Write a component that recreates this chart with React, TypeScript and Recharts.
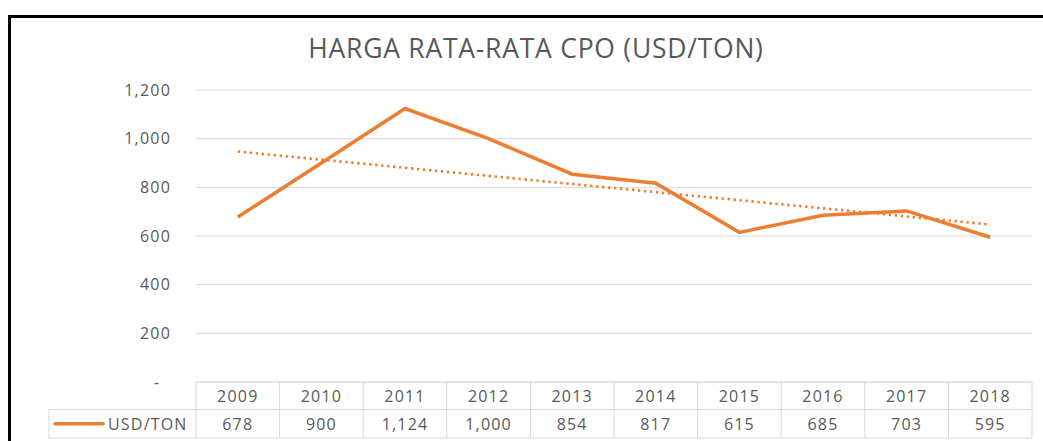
import React from 'react';
import { LineChart, Line, XAxis, YAxis, CartesianGrid } from 'recharts';

const categories = ['2009', '2010', '2011', '2012', '2013', '2014', '2015', '2016', '2017', '2018'];
const usdPerTon = [678, 900, 1124, 1000, 854, 817, 615, 685, 703, 595];
const valueLabels = ['678', '900', '1,124', '1,000', '854', '817', '615', '685', '703', '595'];
// endpoints of the dotted linear trendline
const trendStart = 947;
const trendEnd = 647;
const yTicks = [0, 200, 400, 600, 800, 1000, 1200];
const seriesName = 'USD/TON';
const title = 'HARGA RATA-RATA CPO (USD/TON)';

const W = 1043;
const H = 441;
const PLOT_LEFT = 196;
const PLOT_RIGHT = 1032;
const BAND = (PLOT_RIGHT - PLOT_LEFT) / categories.length;
const ORANGE = '#ED7D31';
const TEXT = '#595959';
const GRID = '#d9d9d9';
const FONT = '"Open Sans", sans-serif';
const LS = 1.2;

const data = categories.map((c, i) => ({
  year: c,
  value: usdPerTon[i],
  trend: i === 0 ? trendStart : i === categories.length - 1 ? trendEnd : null,
}));

function TableTick(props: any) {
  const { x, y, index } = props;
  const half = BAND / 2;
  const l = x - half;
  const r = x + half;
  const top = y;
  const mid = y + 27.5;
  const bot = y + 56;
  const isFirst = index === 0;
  const isLast = index === categories.length - 1;
  return (
    <g>
      <line x1={l} x2={r} y1={top} y2={top} stroke={GRID} strokeWidth={1} />
      <line x1={l} x2={r} y1={mid} y2={mid} stroke={GRID} strokeWidth={1} />
      <line x1={l} x2={r} y1={bot} y2={bot} stroke={GRID} strokeWidth={1} />
      <line x1={l} x2={l} y1={top} y2={bot} stroke={GRID} strokeWidth={1} />
      {isLast && <line x1={r} x2={r} y1={top} y2={bot} stroke={GRID} strokeWidth={1} />}
      <text x={x} y={(top + mid) / 2} textAnchor="middle" dominantBaseline="central" fill={TEXT} fontSize={16} fontFamily={FONT} letterSpacing={LS}>
        {categories[index]}
      </text>
      <text x={x} y={(mid + bot) / 2} textAnchor="middle" dominantBaseline="central" fill={TEXT} fontSize={16} fontFamily={FONT} letterSpacing={LS}>
        {valueLabels[index]}
      </text>
      {isFirst && (
        <g>
          <line x1={49} x2={l} y1={mid} y2={mid} stroke={GRID} strokeWidth={1} />
          <line x1={49} x2={l} y1={bot} y2={bot} stroke={GRID} strokeWidth={1} />
          <line x1={49} x2={49} y1={mid} y2={bot} stroke={GRID} strokeWidth={1} />
          <line x1={55} x2={103} y1={(mid + bot) / 2} y2={(mid + bot) / 2} stroke={ORANGE} strokeWidth={3.5} strokeLinecap="round" />
          <text x={108} y={(mid + bot) / 2} textAnchor="start" dominantBaseline="central" fill={TEXT} fontSize={16} fontFamily={FONT} letterSpacing={LS}>
            {seriesName}
          </text>
        </g>
      )}
    </g>
  );
}

const yFormat = (v: number) => (v === 0 ? '-\u00a0\u00a0' : v.toLocaleString('en-US'));

export default function App() {
  return (
    <div style={{ position: 'fixed', left: 0, top: 0, width: W, height: H, overflow: 'hidden', background: '#fff' }}>
      <div
        style={{
          position: 'absolute',
          left: 8,
          top: 15,
          width: W,
          height: H,
          borderTop: '3px solid #000',
          borderLeft: '3px solid #000',
          boxSizing: 'border-box',
        }}
      />
      <div
        style={{
          position: 'absolute',
          left: 0,
          top: 30,
          width: 1072,
          textAlign: 'center',
          fontFamily: FONT,
          fontSize: 26.5,
          color: TEXT,
          letterSpacing: 0.75,
          whiteSpace: 'nowrap',
        }}
      >
        {title}
      </div>
      <div style={{ position: 'absolute', left: 0, top: 0 }}>
        <LineChart width={W} height={H} data={data} margin={{ top: 90, right: W - PLOT_RIGHT, bottom: 0, left: 0 }}>
          <CartesianGrid vertical={false} stroke={GRID} strokeWidth={1} />
          <XAxis
            dataKey="year"
            type="category"
            scale="point"
            padding={{ left: BAND / 2, right: BAND / 2 }}
            height={H - 382}
            axisLine={false}
            tickLine={false}
            tickSize={0}
            tickMargin={0}
            interval={0}
            tick={<TableTick />}
          />
          <YAxis
            width={PLOT_LEFT}
            domain={[0, 1200]}
            ticks={yTicks}
            interval={0}
            axisLine={false}
            tickLine={false}
            tickSize={0}
            tickMargin={25}
            tickFormatter={yFormat}
            tick={{ fill: TEXT, fontSize: 16, fontFamily: FONT, letterSpacing: LS }}
          />
          <Line
            dataKey="trend"
            stroke={ORANGE}
            strokeWidth={2.6}
            strokeDasharray="2.4 3.6"
            dot={false}
            activeDot={false}
            connectNulls
            isAnimationActive={false}
          />
          <Line
            dataKey="value"
            stroke={ORANGE}
            strokeWidth={3.5}
            dot={false}
            activeDot={false}
            strokeLinejoin="miter"
            isAnimationActive={false}
          />
        </LineChart>
      </div>
    </div>
  );
}
